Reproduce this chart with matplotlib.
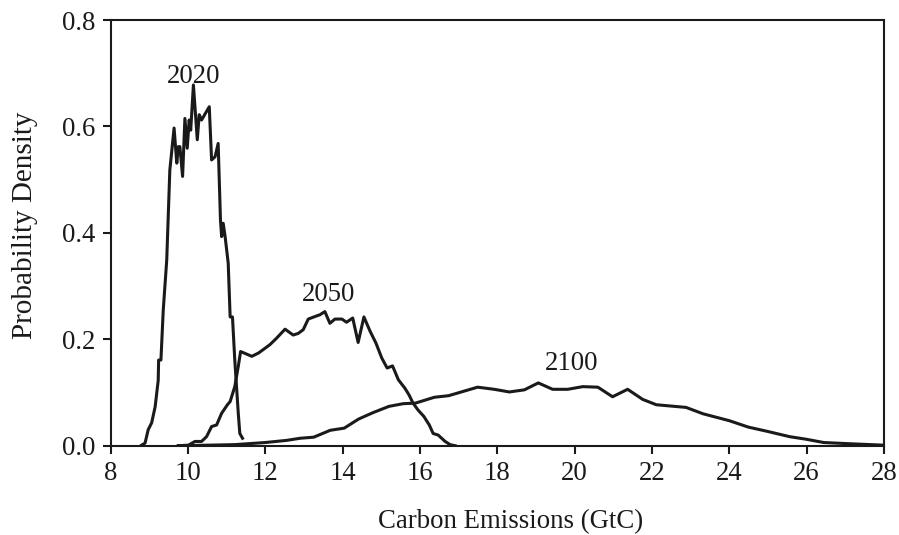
import matplotlib
matplotlib.use("Agg")
import matplotlib.pyplot as plt

x2020 = [8.80, 8.89, 8.97, 9.06, 9.15, 9.23, 9.24, 9.30, 9.36, 9.45, 9.53, 9.64, 9.71, 9.75,
         9.79, 9.86, 9.92, 9.98, 10.03, 10.07, 10.14, 10.24, 10.29, 10.35, 10.55, 10.61, 10.70,
         10.78, 10.84, 10.87, 10.91, 10.96, 11.04, 11.09, 11.15, 11.21, 11.30, 11.34, 11.41]
y2020 = [0.001, 0.005, 0.030, 0.043, 0.073, 0.123, 0.161, 0.161, 0.255, 0.349, 0.518, 0.597,
         0.531, 0.562, 0.562, 0.506, 0.615, 0.559, 0.612, 0.593, 0.678, 0.575, 0.622, 0.612,
         0.637, 0.537, 0.543, 0.568, 0.424, 0.393, 0.418, 0.393, 0.343, 0.242, 0.242, 0.161,
         0.061, 0.023, 0.014]

x2050 = [9.75, 10.01, 10.18, 10.35, 10.48, 10.61, 10.74, 10.87, 11.02, 11.09, 11.21, 11.30,
         11.36, 11.65, 11.82, 11.99, 12.12, 12.29, 12.51, 12.72, 12.85, 12.98, 13.11, 13.33,
         13.41, 13.54, 13.67, 13.80, 13.98, 14.10, 14.26, 14.40, 14.55, 14.71, 14.86, 15.01,
         15.15, 15.29, 15.44, 15.61, 15.72, 15.82, 15.95, 16.10, 16.24, 16.34, 16.47, 16.65,
         16.78, 16.91]
y2050 = [0.0, 0.001, 0.008, 0.008, 0.017, 0.036, 0.039, 0.061, 0.077, 0.083, 0.111, 0.149,
         0.177, 0.168, 0.174, 0.183, 0.190, 0.202, 0.219, 0.208, 0.211, 0.218, 0.238, 0.244,
         0.246, 0.252, 0.230, 0.238, 0.238, 0.232, 0.240, 0.194, 0.242, 0.215, 0.193, 0.165,
         0.146, 0.150, 0.124, 0.108, 0.095, 0.080, 0.067, 0.055, 0.039, 0.023, 0.020, 0.008,
         0.002, 0.0]

x2100 = [9.75, 10.5, 11.2, 11.6, 12.0, 12.55, 12.9, 13.25, 13.68, 14.04, 14.41, 14.78, 15.2,
         15.57, 15.88, 16.37, 16.74, 17.49, 17.92, 18.31, 18.7, 19.06, 19.43, 19.82, 20.21,
         20.6, 20.98, 21.37, 21.76, 22.11, 22.88, 23.32, 24.0, 24.49, 24.98, 25.56, 26.0,
         26.44, 27.02, 28.0]
y2100 = [0.0, 0.001, 0.002, 0.004, 0.006, 0.010, 0.014, 0.016, 0.029, 0.033, 0.050, 0.062,
         0.074, 0.079, 0.080, 0.091, 0.094, 0.110, 0.106, 0.101, 0.105, 0.118, 0.106, 0.106,
         0.111, 0.110, 0.092, 0.106, 0.087, 0.077, 0.072, 0.060, 0.047, 0.035, 0.027, 0.017,
         0.012, 0.006, 0.004, 0.001]

labels = ["2020", "2050", "2100"]
label_x = [10.15, 13.64, 19.91]
label_y = [0.694, 0.285, 0.155]

x_ticks = [8, 10, 12, 14, 16, 18, 20, 22, 24, 26, 28]
y_ticks = [0.0, 0.2, 0.4, 0.6, 0.8]

plt.rcParams['font.family'] = ['Liberation Serif', 'DejaVu Serif']
FS = 19.3
ink = '#1a1a1a'
W, H = 899, 535

fig = plt.figure(figsize=(W / 100, H / 100), dpi=100)
ax = fig.add_axes([0.1231, 0.1669, 0.9833 - 0.1231, 0.9626 - 0.1669])

for xs, ys in [(x2020, y2020), (x2050, y2050), (x2100, y2100)]:
    ax.plot(xs, ys, color=ink, lw=2.2, solid_joinstyle='round')

for t, lx, ly in zip(labels, label_x, label_y):
    ax.text(lx, ly, t, ha='center', va='center', fontsize=FS, color=ink)

ax.set_xlim(8, 28)
ax.set_ylim(0, 0.8)
ax.set_xticks(x_ticks)
ax.set_yticks(y_ticks)
ax.set_yticklabels([f"{v:.1f}" for v in y_ticks])
ax.tick_params(direction='out', length=6, width=1.5, colors=ink, labelsize=FS, pad=5)
for s in ax.spines.values():
    s.set_linewidth(1.5)
    s.set_color(ink)

fig.text(510.5 / W, 1 - 528 / H, "Carbon Emissions (GtC)", fontsize=FS, color=ink,
         ha='center', va='baseline')
fig.text(31.5 / W, 1 - 225.5 / H, "Probability Density", fontsize=21, color=ink,
         ha='center', va='baseline', rotation=90, rotation_mode='anchor')

fig.savefig("out.png", dpi=100)
